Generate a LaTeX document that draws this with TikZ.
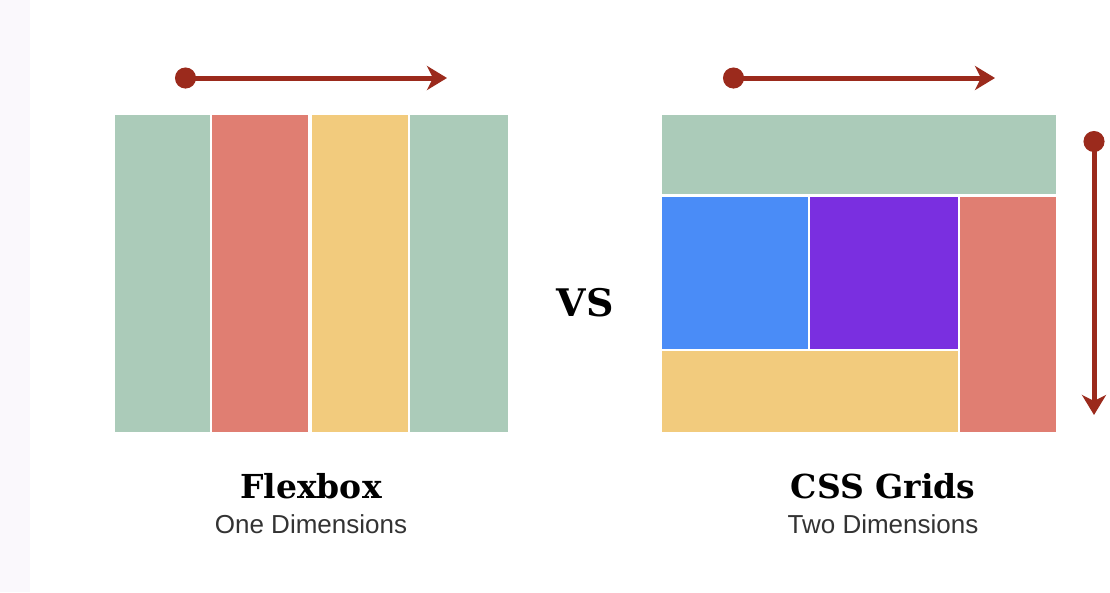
\documentclass[tikz,border=0pt]{standalone}
\usepackage{fontspec}
\setmainfont{Liberation Sans}
\newfontfamily\slabfont{DejaVu Serif}
\usetikzlibrary{positioning,arrows.meta}
\definecolor{boxgreen}{HTML}{ABCBB9}
\definecolor{boxred}{HTML}{E07E72}
\definecolor{boxyellow}{HTML}{F2CB7D}
\definecolor{boxblue}{HTML}{4A8CF7}
\definecolor{boxpurple}{HTML}{7A2FE0}
\definecolor{axisred}{HTML}{9B2A1C}
\definecolor{textgrey}{HTML}{333333}
\definecolor{stripgrey}{HTML}{FAF8FC}
\tikzset{
  cell/.style={draw=none, inner sep=0pt, anchor=north west},
  axis/.style={axisred, line width=5pt, {Circle[length=21pt]}-{Stealth[length=20pt,width=24pt,inset=6pt]}},
  title/.style={font=\slabfont\bfseries\fontsize{33}{36}\selectfont, inner sep=0pt},
  subtitle/.style={font=\fontsize{26}{28}\selectfont, text=textgrey, inner sep=0pt}
}

\begin{document}
\begin{tikzpicture}[x=1pt, y=-1pt]
  \useasboundingbox (0,0) rectangle (1110,592);
  \fill[white] (0,0) rectangle (1110,592);
  \fill[stripgrey] (0,0) rectangle (30,592);
  % Define nodes
  \node[cell, fill=boxgreen,  minimum width=95pt, minimum height=317pt] (fa) at (115,115) {};
  \node[cell, fill=boxred,    minimum width=96pt, minimum height=317pt] (fb) at (212,115) {};
  \node[cell, fill=boxyellow, minimum width=96pt, minimum height=317pt] (fc) at (312,115) {};
  \node[cell, fill=boxgreen,  minimum width=98pt, minimum height=317pt] (fd) at (410,115) {};
  \node[cell, fill=boxgreen,  minimum width=394pt, minimum height=79pt] (ga) at (662,115) {};
  \node[cell, fill=boxblue,   minimum width=146pt, minimum height=152pt] (gb) at (662,197) {};
  \node[cell, fill=boxpurple, minimum width=148pt, minimum height=152pt] (gc) at (810,197) {};
  \node[cell, fill=boxred,    minimum width=96pt, minimum height=235pt] (gd) at (960,197) {};
  \node[cell, fill=boxyellow, minimum width=296pt, minimum height=81pt] (ge) at (662,351) {};
  \node[font=\slabfont\bfseries\fontsize{38}{40}\selectfont, inner sep=0pt] (vs) at (585,303) {VS};
  \node[title] (flex) at (311,486) {Flexbox};
  \node[subtitle] (flexsub) at (311,524) {One Dimensions};
  \node[title] (grid) at (883,486) {CSS Grids};
  \node[subtitle] (gridsub) at (883,524) {Two Dimensions};
  % Define axis ends
  \coordinate (fstart) at (175,78);
  \coordinate (fend) at (447,78);
  \coordinate (gstart) at (723,78);
  \coordinate (gend) at (995,78);
  \coordinate (vstart) at (1094,131);
  \coordinate (vend) at (1094,415);
  % Connect nodes
  \draw[axis] (fstart) -- (fend);
  \draw[axis] (gstart) -- (gend);
  \draw[axis] (vstart) -- (vend);
\end{tikzpicture}
\end{document}
